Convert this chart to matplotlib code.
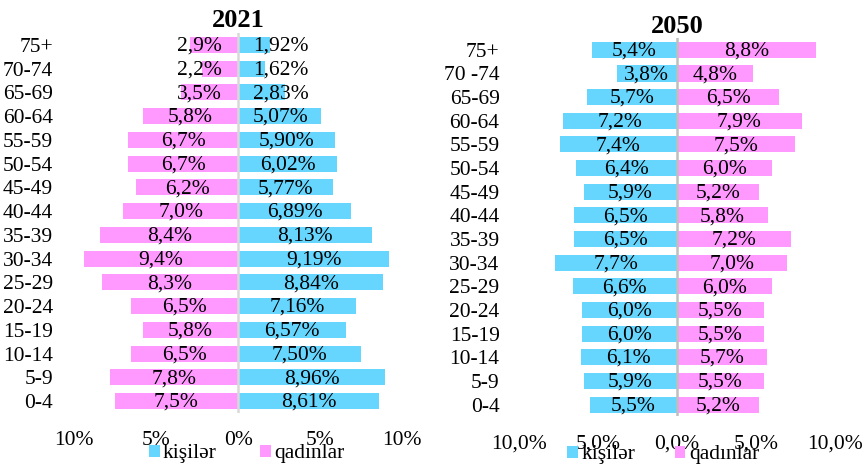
import matplotlib
matplotlib.use("Agg")
import matplotlib.pyplot as plt
from matplotlib.patches import Patch
import numpy as np

plt.rcParams['font.family'] = ['Liberation Serif', 'DejaVu Serif']

ages_2021 = ["0-4", "5-9", "10-14", "15-19", "20-24", "25-29", "30-34", "35-39",
             "40-44", "45-49", "50-54", "55-59", "60-64", "65-69", "70-74", "75+"]
ages_2050 = ["0-4", "5-9", "10-14", "15-19", "20-24", "25-29", "30-34", "35-39",
             "40-44", "45-49", "50-54", "55-59", "60-64", "65-69", "70 -74", "75+"]

women_2021 = [7.5, 7.8, 6.5, 5.8, 6.5, 8.3, 9.4, 8.4, 7.0, 6.2, 6.7, 6.7, 5.8, 3.5, 2.2, 2.9]
men_2021 = [8.61, 8.96, 7.50, 6.57, 7.16, 8.84, 9.19, 8.13, 6.89, 5.77, 6.02, 5.90, 5.07, 2.83, 1.62, 1.92]
women_2021_lbl = ["7,5%", "7,8%", "6,5%", "5,8%", "6,5%", "8,3%", "9,4%", "8,4%",
                  "7,0%", "6,2%", "6,7%", "6,7%", "5,8%", "3,5%", "2,2%", "2,9%"]
men_2021_lbl = ["8,61%", "8,96%", "7,50%", "6,57%", "7,16%", "8,84%", "9,19%", "8,13%",
                "6,89%", "5,77%", "6,02%", "5,90%", "5,07%", "2,83%", "1,62%", "1,92%"]

men_2050 = [5.5, 5.9, 6.1, 6.0, 6.0, 6.6, 7.7, 6.5, 6.5, 5.9, 6.4, 7.4, 7.2, 5.7, 3.8, 5.4]
women_2050 = [5.2, 5.5, 5.7, 5.5, 5.5, 6.0, 7.0, 7.2, 5.8, 5.2, 6.0, 7.5, 7.9, 6.5, 4.8, 8.8]

xticks = [-10, -5, 0, 5, 10]
xtick_lbl_2021 = ["10%", "5%", "0%", "5%", "10%"]
xtick_lbl_2050 = ["10,0%", "5,0%", "0,0%", "5,0%", "10,0%"]

BLUE = "#66D6FF"
PINK = "#FF99FF"
FS = 15.5

fig = plt.figure(figsize=(8.65, 4.69), dpi=100)

def fmt(v):
    return f"{v:.1f}%".replace(".", ",")

def style(ax, labels, xlbls, lc, ypad):
    ax.set_xlim(-10, 10)
    ax.set_ylim(-0.5, 15.5)
    ax.set_yticks(range(16))
    ax.set_yticklabels(labels, fontsize=FS)
    ax.set_xticks(xticks)
    ax.set_xticklabels(xlbls, fontsize=FS)
    ax.tick_params(length=0)
    ax.tick_params(axis='x', pad=13)
    ax.tick_params(axis='y', pad=ypad)
    for s in ax.spines.values():
        s.set_visible(False)
    ax.axvline(0, color=lc, lw=1.8, zorder=3)
    ax.set_facecolor('none')

# 2021
ax1 = fig.add_axes([0.0855, 0.1194, 0.3795, 0.8102])
y = np.arange(16)
ax1.barh(y, [-v for v in women_2021], height=0.68, color=PINK, zorder=2)
ax1.barh(y, men_2021, height=0.68, color=BLUE, zorder=2)
for i in range(16):
    ax1.text(-max(women_2021[i] / 2, 2.35), y[i] - 0.05, women_2021_lbl[i],
             ha='center', va='center', fontsize=FS, zorder=4)
    ax1.text(max(men_2021[i] / 2, 2.6), y[i] - 0.05, men_2021_lbl[i],
             ha='center', va='center', fontsize=FS, zorder=4)
style(ax1, ages_2021, xtick_lbl_2021, "#D9D9D9", 15)
ax1.set_title("2021", fontsize=19, fontweight='bold', pad=4)

# 2050
ax2 = fig.add_axes([0.600, 0.112, 0.365, 0.807])
ax2.barh(y, [-v for v in men_2050], height=0.68, color=BLUE, zorder=2)
ax2.barh(y, women_2050, height=0.68, color=PINK, zorder=2)
for i in range(16):
    ax2.text(-men_2050[i] / 2, y[i] - 0.05, fmt(men_2050[i]),
             ha='center', va='center', fontsize=FS, zorder=4)
    ax2.text(women_2050[i] / 2, y[i] - 0.05, fmt(women_2050[i]),
             ha='center', va='center', fontsize=FS, zorder=4)
style(ax2, ages_2050, xtick_lbl_2050, "#BFBFBF", 14)
ax2.set_title("2050", fontsize=19, fontweight='bold', pad=0)

handles = [Patch(facecolor=BLUE, label="kişilər"), Patch(facecolor=PINK, label="qadınlar")]
fig.legend(handles=handles, loc='center', bbox_to_anchor=(0.285, 0.032), ncol=2,
           frameon=False, fontsize=FS, handlelength=0.5, handleheight=0.5,
           handletextpad=0.15, columnspacing=2.0, borderpad=0)
fig.legend(handles=handles, loc='center', bbox_to_anchor=(0.767, 0.030), ncol=2,
           frameon=False, fontsize=FS, handlelength=0.5, handleheight=0.5,
           handletextpad=0.2, columnspacing=1.8, borderpad=0)

fig.savefig("out.png", dpi=100)
